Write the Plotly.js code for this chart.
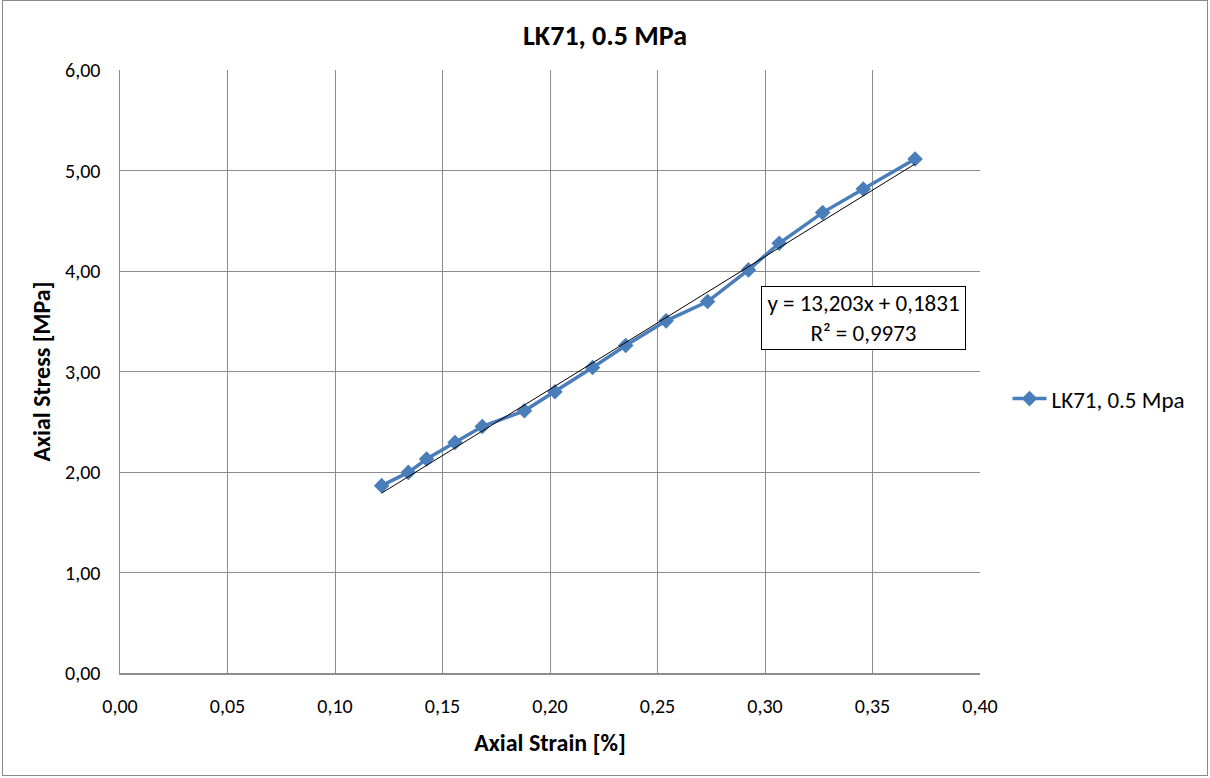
<!DOCTYPE html>
<html>
<head>
<meta charset="utf-8">
<script src="https://cdn.plot.ly/plotly-3.0.1.min.js"></script>
<style>
html,body{margin:0;padding:0;background:#fff;}
#wrap{position:relative;width:1210px;height:778px;}
#chart{position:absolute;left:0;top:0;width:1210px;height:778px;}
#frame{position:absolute;left:2px;top:0px;width:1204px;height:774px;border:1px solid #8a8a8a;pointer-events:none;}
</style>
</head>
<body>
<div id="wrap"><div id="chart"></div><div id="frame"></div></div>
<script>
// Data
const strain = [0.1217, 0.1341, 0.1426, 0.1558, 0.1685, 0.1881, 0.2023, 0.2198, 0.2352, 0.2540, 0.2733, 0.2923, 0.3066, 0.3268, 0.3457, 0.3698];
const stress = [1.864, 1.996, 2.129, 2.294, 2.453, 2.609, 2.798, 3.040, 3.258, 3.504, 3.696, 4.011, 4.276, 4.581, 4.816, 5.114];
const slope = 13.203;
const intercept = 0.1831;
const trendLabel = 'y = 13,203x + 0,1831<br>R² = 0,9973';
const seriesName = 'LK71, 0.5 Mpa';
const chartTitle = 'LK71, 0.5 MPa';
const xTitle = 'Axial Strain [%]';
const yTitle = 'Axial Stress [MPa]';

const xMin = Math.min(...strain), xMax = Math.max(...strain);
const trendX = [xMin, xMax];
const trendY = trendX.map(v => slope * v + intercept);

const font = 'Carlito, Calibri, "Liberation Sans", Arial, sans-serif';
const grid = '#8c8c8c';

const traces = [
  {
    x: strain, y: stress, name: seriesName, type: 'scatter', mode: 'lines+markers',
    line: {color: '#4a7ebb', width: 3.5},
    marker: {symbol: 'diamond', size: 12, color: '#4a7ebb'}
  },
  {
    x: trendX, y: trendY, type: 'scatter', mode: 'lines', showlegend: false,
    line: {color: '#000000', width: 1}, hoverinfo: 'skip'
  }
];

const layout = {
  width: 1210, height: 778,
  paper_bgcolor: '#ffffff', plot_bgcolor: '#ffffff',
  margin: {l: 120, r: 230, t: 70, b: 104.5, pad: 0},
  separators: ',.',
  font: {family: font, size: 20, color: '#000'},
  title: {text: '<b>' + chartTitle + '</b>', x: 0.5, xanchor: 'center', y: 1 - 35/778, yanchor: 'middle',
          font: {family: font, size: 28, color: '#000'}},
  xaxis: {
    range: [0, 0.4], dtick: 0.05, tick0: 0, tickformat: '.2f',
    showgrid: true, gridcolor: grid, gridwidth: 1,
    showline: true, linecolor: grid, linewidth: 1.5, mirror: false,
    zeroline: false, ticks: '', ticklabelstandoff: 14,
    tickfont: {family: font, size: 20, color: '#000'},
    title: {text: '<b>' + xTitle + '</b>', standoff: 17, font: {family: font, size: 24, color: '#000'}}
  },
  yaxis: {
    range: [0, 6], dtick: 1, tick0: 0, tickformat: '.2f',
    showgrid: true, gridcolor: grid, gridwidth: 1,
    showline: true, linecolor: grid, linewidth: 1.5, mirror: false,
    zeroline: false, ticks: '', ticklabelstandoff: 14,
    tickfont: {family: font, size: 20, color: '#000'},
    title: {text: '<b>' + yTitle + '</b>', standoff: 7, font: {family: font, size: 24, color: '#000'}}
  },
  legend: {x: 1.032, xanchor: 'left', y: 0.455, yanchor: 'middle', itemwidth: 34,
           font: {family: font, size: 23, color: '#000'}, bgcolor: 'rgba(0,0,0,0)'},
  annotations: [{
    x: 0.3456, y: 3.535, xref: 'x', yref: 'y', text: trendLabel, showarrow: false,
    font: {family: font, size: 23, color: '#000'}, align: 'center',
    bordercolor: '#000', borderwidth: 1, borderpad: 4, bgcolor: '#fff',
    width: 195, height: 54
  }]
};

Plotly.newPlot('chart', traces, layout, {displayModeBar: false, staticPlot: true});
</script>
</body>
</html>
